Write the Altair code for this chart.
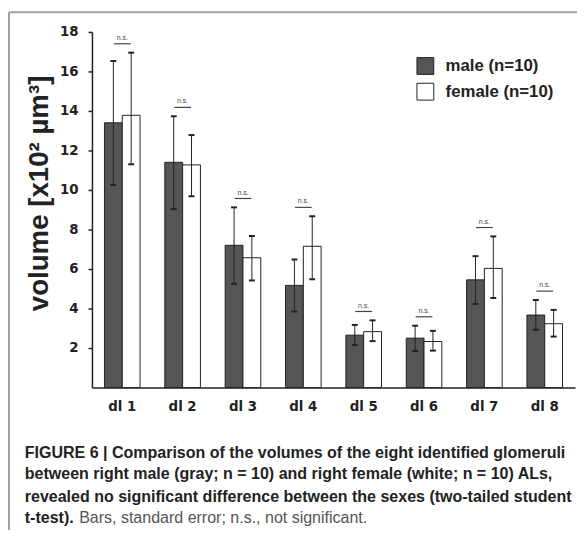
import altair as alt
import pandas as pd

# ---- data ----
categories = ["dl 1", "dl 2", "dl 3", "dl 4", "dl 5", "dl 6", "dl 7", "dl 8"]
MALE = "male (n=10)"
FEMALE = "female (n=10)"
male_mean = [13.4, 11.4, 7.2, 5.17, 2.65, 2.5, 5.45, 3.67]
male_upper = [16.53, 13.73, 9.12, 6.48, 3.17, 3.13, 6.65, 4.43]
male_lower = [10.25, 9.03, 5.25, 3.85, 2.15, 1.85, 4.23, 2.92]
female_mean = [13.78, 11.27, 6.57, 7.15, 2.83, 2.33, 6.03, 3.23]
female_upper = [16.95, 12.78, 7.67, 8.67, 3.4, 2.87, 7.65, 3.93]
female_lower = [11.3, 9.68, 5.42, 5.48, 2.35, 1.87, 4.53, 2.58]
y_ticks = [2, 4, 6, 8, 10, 12, 14, 16, 18]
y_title = "volume [x10\u00b2 \u00b5m\u00b3]"

caption_lines = [
    "FIGURE 6 | Comparison of the volumes of the eight identified glomeruli",
    "between right male (gray; n = 10) and right female (white; n = 10) ALs,",
    "revealed no significant difference between the sexes (two-tailed student",
]
caption_last_bold = "t-test)."
caption_last_normal = "Bars, standard error; n.s., not significant."

rows = []
for i, c in enumerate(categories):
    rows.append(dict(cat=c, sex=MALE, mean=male_mean[i], lo=male_lower[i], hi=male_upper[i]))
    rows.append(dict(cat=c, sex=FEMALE, mean=female_mean[i], lo=female_lower[i], hi=female_upper[i]))
df = pd.DataFrame(rows)
ns_df = pd.DataFrame({
    "cat": categories,
    "top": [max(a, b) for a, b in zip(male_upper, female_upper)],
    "label": ["n.s."] * len(categories),
})

INK = "#222222"
SANS = "Liberation Sans, Arial, Helvetica, sans-serif"

x_enc = alt.X(
    "cat:N", sort=categories,
    scale=alt.Scale(paddingInner=0.41, paddingOuter=0.207),
    axis=alt.Axis(title=None, labelAngle=0, ticks=False, labelPadding=12,
                  labelFont="DejaVu Sans", labelFontWeight="bold", labelFontSize=13.5,
                  labelColor=INK, domainColor=INK, domainWidth=1.5),
)
xoff = alt.XOffset("sex:N", sort=[MALE, FEMALE], scale=alt.Scale(paddingInner=0, paddingOuter=0))
y_axis = alt.Axis(
    title=y_title, values=y_ticks, grid=False, tickSize=4, tickWidth=1.5, tickColor=INK,
    domainColor=INK, domainWidth=1.5, labelPadding=10,
    labelFont="DejaVu Sans", labelFontWeight="bold", labelFontSize=13.5, labelColor=INK,
    titleFont=SANS, titleFontWeight="bold", titleFontSize=28, titleColor=INK,
    titleAngle=270, titleX=-45, titleY=163, titleAlign="center", titleBaseline="alphabetic",
)
y_scale = alt.Scale(domain=[0, 18], nice=False, zero=True)

base = alt.Chart(df)

bars = base.mark_bar(stroke=INK, strokeWidth=1).encode(
    x=x_enc, xOffset=xoff,
    y=alt.Y("mean:Q", scale=y_scale, axis=y_axis),
    fill=alt.Fill(
        "sex:N",
        scale=alt.Scale(domain=[MALE, FEMALE], range=["#555555", "#ffffff"]),
        legend=alt.Legend(
            title=None, orient="none", legendX=328, legendY=25,
            symbolType="square", symbolSize=290, symbolStrokeColor=INK, symbolStrokeWidth=1,
            symbolOpacity=1, labelFont=SANS, labelFontWeight="bold",
            labelFontSize=17, labelColor=INK, labelOffset=11, rowPadding=3, padding=0,
        ),
    ),
)

err = base.mark_rule(color=INK, strokeWidth=1).encode(
    x=x_enc, xOffset=xoff,
    y=alt.Y("lo:Q", scale=y_scale, axis=y_axis), y2="hi:Q",
)
cap_hi = base.mark_tick(orient="horizontal", size=6, thickness=2, color=INK, opacity=1).encode(
    x=x_enc, xOffset=xoff, y=alt.Y("hi:Q", scale=y_scale, axis=y_axis),
)
cap_lo = base.mark_tick(orient="horizontal", size=6, thickness=2, color=INK, opacity=1).encode(
    x=x_enc, xOffset=xoff, y=alt.Y("lo:Q", scale=y_scale, axis=y_axis),
)

ns_base = alt.Chart(ns_df)
ns_line = ns_base.mark_tick(orient="horizontal", size=17, thickness=1.2, color="#444", opacity=1, yOffset=-9).encode(
    x=x_enc, y=alt.Y("top:Q", scale=y_scale, axis=y_axis),
)
ns_text = ns_base.mark_text(fontSize=7, font=SANS, color="#444", dy=-13, baseline="alphabetic").encode(
    x=x_enc, y=alt.Y("top:Q", scale=y_scale, axis=y_axis), text="label:N",
)

one = alt.Data(values=[{"k": 1}])
frame_left = alt.Chart(one).mark_rule(color="#a0a0a0", strokeWidth=2).encode(
    x=alt.value(-84), y=alt.value(-20), y2=alt.value(505))
frame_top = alt.Chart(one).mark_rule(color="#a0a0a0", strokeWidth=2).encode(
    x=alt.value(-84), x2=alt.value(500), y=alt.value(-20))

caption_layers = []
cap_y = [431.5, 453, 475.5]
for line, yy in zip(caption_lines, cap_y):
    caption_layers.append(
        alt.Chart(alt.Data(values=[{"t": line}])).mark_text(
            align="left", baseline="alphabetic", font=SANS, fontWeight="bold",
            fontSize=16.2, color=INK,
        ).encode(x=alt.value(-68), y=alt.value(yy), text="t:N")
    )
caption_layers.append(
    alt.Chart(alt.Data(values=[{"t": caption_last_bold}])).mark_text(
        align="left", baseline="alphabetic", font=SANS, fontWeight="bold",
        fontSize=16.2, color=INK,
    ).encode(x=alt.value(-68), y=alt.value(497), text="t:N")
)
caption_layers.append(
    alt.Chart(alt.Data(values=[{"t": caption_last_normal}])).mark_text(
        align="left", baseline="alphabetic", font=SANS, fontWeight="normal",
        fontSize=16.2, color="#555555",
    ).encode(x=alt.value(-13), y=alt.value(497), text="t:N")
)

chart = alt.layer(
    frame_left, frame_top, bars, err, cap_hi, cap_lo, ns_line, ns_text, *caption_layers
).properties(
    width=489, height=360,
    autosize=alt.AutoSizeParams(type="none"),
    padding={"left": 85, "top": 21, "right": 2, "bottom": 141},
    background="white",
).configure_view(stroke=None)

chart.save("out.html", embed_options={"renderer": "svg", "actions": False})
